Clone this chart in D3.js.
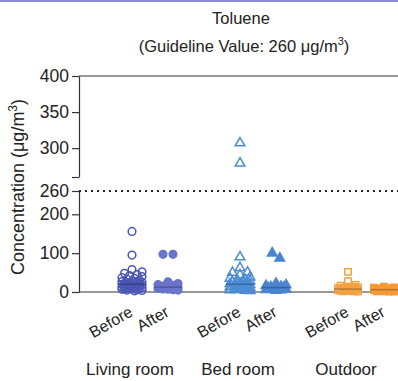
<!DOCTYPE html>
<html><head><meta charset="utf-8">
<script src="https://cdn.jsdelivr.net/npm/d3@7"></script>
<style>
html,body{margin:0;padding:0;background:#fff;}
svg{display:block;font-family:"Liberation Sans",Arial,sans-serif;}
</style></head>
<body><svg id="c" width="398" height="381"></svg>
<script>
const groups = ["Living room", "Bed room", "Outdoor"];
const phases = ["Before", "After"];
const livingBefore = [156, 95, 58, 52, 48, 45, 42, 40, 37, 35, 33, 30, 28, 27, 26, 25, 24, 23, 22, 22, 21, 20, 20, 19, 18, 18, 17, 16, 15, 15, 14, 13, 12, 12, 11, 10, 10, 9, 8, 8, 7, 6, 5, 4, 3];
const livingAfter = [97, 97, 26, 22, 19, 17, 15, 14, 13, 12, 11, 10, 9, 9, 8, 7, 6, 5];
const bedBefore = [307, 279, 90, 62, 51, 50, 44, 38, 35, 32, 30, 28, 26, 25, 24, 22, 21, 20, 19, 18, 17, 16, 15, 14, 13, 12, 11, 10, 9, 8, 7, 6, 5, 4, 3];
const bedAfter = [100, 87, 22, 18, 16, 14, 13, 12, 11, 10, 9, 8, 7, 6, 5, 4];
const outdoorBefore = [52, 28, 18, 16, 14, 13, 12, 11, 10, 9, 9, 8, 8, 7, 7, 6, 6, 5, 5, 4, 4, 3, 3, 2, 2, 1];
const outdoorAfter = [14, 12, 11, 10, 9, 8, 8, 7, 7, 6, 6, 5, 5, 4, 4, 3, 3, 2, 2, 1, 1];
const lowTicks = [0, 100, 200, 260];
const highTicks = [260, 300, 350, 400];
const guideline = 260;

const series = [
  {g: "Living room", p: "Before", vals: livingBefore, shape: d3.symbolCircle, open: true, color: "#4b56b4"},
  {g: "Living room", p: "After", vals: livingAfter, shape: d3.symbolCircle, open: false, color: "#6a74cb"},
  {g: "Bed room", p: "Before", vals: bedBefore, shape: d3.symbolTriangle, open: true, color: "#4c8cd4"},
  {g: "Bed room", p: "After", vals: bedAfter, shape: d3.symbolTriangle, open: false, color: "#4a84d2"},
  {g: "Outdoor", p: "Before", vals: outdoorBefore, shape: d3.symbolSquare, open: true, color: "#f4a142"},
  {g: "Outdoor", p: "After", vals: outdoorAfter, shape: d3.symbolSquare, open: false, color: "#f49a36"}
];

const svg = d3.select("#c");
const W = 398, x0 = 79;

svg.append("rect").attr("x",0).attr("y",0).attr("width",W).attr("height",2).attr("fill","#8a8cc8");

const outer = d3.scaleBand().domain(groups).range([96, 420]).padding(0);
const inner = d3.scalePoint().domain(phases).range([36, 72]);
const xPos = (g, p) => outer(g) + inner(p);

const yLow = d3.scaleLinear().domain([0, 260]).range([292, 191]);
const yHigh = d3.scaleLinear().domain([260, 400]).range([177, 76]);
const y = v => v <= 260 ? yLow(v) : yHigh(v);

svg.append("text").attr("x", 241).attr("y", 24).attr("text-anchor","middle").attr("font-size",16.5).attr("fill","#222").text("Toluene");
const t2 = svg.append("text").attr("x", 244).attr("y", 52).attr("text-anchor","middle").attr("font-size",16.5).attr("fill","#222");
t2.append("tspan").text("(Guideline Value: 260 μg/m");
t2.append("tspan").attr("dy",-7).attr("font-size",11).text("3");
t2.append("tspan").attr("dy",7).text(")");

const yl = svg.append("text").attr("transform","translate(24,187) rotate(-90)").attr("text-anchor","middle").attr("font-size",18).attr("fill","#222");
yl.append("tspan").text("Concentration (μg/m");
yl.append("tspan").attr("dy",-7).attr("font-size",12).text("3");
yl.append("tspan").attr("dy",7).text(")");

function styleAxis(g){
  g.selectAll("path.domain").attr("stroke","#333").attr("stroke-width",1.2);
  g.selectAll(".tick line").attr("stroke","#333").attr("stroke-width",1.2);
  g.selectAll(".tick text").attr("font-size",17.5).attr("fill","#222").attr("font-family","Liberation Sans, Arial, sans-serif");
}
const gh = svg.append("g").attr("transform",`translate(${x0},0)`)
  .call(d3.axisLeft(yHigh).tickValues(highTicks).tickSize(7).tickPadding(3).tickSizeOuter(0).tickFormat(d => d === 260 ? "" : d));
styleAxis(gh);
const gl = svg.append("g").attr("transform",`translate(${x0},0)`)
  .call(d3.axisLeft(yLow).tickValues(lowTicks).tickSize(7).tickPadding(3).tickSizeOuter(0));
styleAxis(gl);

svg.append("line").attr("x1",x0).attr("x2",W).attr("y1",yHigh(400)).attr("y2",yHigh(400)).attr("stroke","#333").attr("stroke-width",1.2);
svg.append("line").attr("x1",x0).attr("x2",W).attr("y1",yLow(0)).attr("y2",yLow(0)).attr("stroke","#333").attr("stroke-width",1.2);
svg.append("line").attr("x1",x0).attr("x2",W).attr("y1",yLow(guideline)).attr("y2",yLow(guideline))
  .attr("stroke","#222").attr("stroke-width",2).attr("stroke-dasharray","2,4");

function swarm(vals, cx, minD, step, maxOff){
  const placed = [];
  const sorted = vals.slice().sort((a,b)=>b-a);
  sorted.forEach(v => {
    const py = y(v);
    let chosen = null, bestX = cx, bestD = -1;
    for (let k = 0; ; k++) {
      const off = (k === 0) ? 0 : Math.ceil(k/2) * step * (k % 2 ? 1 : -1);
      if (Math.abs(off) > maxOff) break;
      const px = cx + off;
      const d = placed.length ? d3.min(placed, q => Math.hypot(q.x - px, q.y - py)) : Infinity;
      if (d >= minD) { chosen = px; break; }
      if (d > bestD) { bestD = d; bestX = px; }
    }
    placed.push({x: chosen !== null ? chosen : bestX, y: py, v});
  });
  const comp = placed.map(() => -1);
  let c = 0;
  placed.forEach((p, i) => {
    if (comp[i] >= 0) return;
    const stack = [i]; comp[i] = c;
    while (stack.length) {
      const j = stack.pop();
      placed.forEach((q, k) => {
        if (comp[k] < 0 && Math.hypot(q.x - placed[j].x, q.y - placed[j].y) < minD + 4) { comp[k] = c; stack.push(k); }
      });
    }
    c++;
  });
  for (let ci = 0; ci < c; ci++) {
    const members = placed.filter((p, i) => comp[i] === ci);
    if (members.length > 4) continue;
    const ext = d3.extent(members, m => m.x);
    const shift = cx - (ext[0] + ext[1]) / 2;
    members.forEach(m => m.x += shift);
  }
  return placed;
}

series.forEach(s => {
  const cx = xPos(s.g, s.p);
  const size = s.shape === d3.symbolSquare ? 40 : (s.shape === d3.symbolTriangle ? 40 : 46);
  const pts = swarm(s.vals, cx, 8, 2.5, 11);
  const sym = d3.symbol().type(s.shape).size(size);
  svg.append("g").selectAll("path").data(pts).join("path")
    .attr("d", sym)
    .attr("transform", d => `translate(${d.x},${d.y})`)
    .attr("fill", s.open ? "none" : s.color)
    .attr("stroke", s.color)
    .attr("stroke-width", 1.5);
  const med = d3.median(s.vals);
  svg.append("line").attr("x1", cx-14).attr("x2", cx+14).attr("y1", y(med)).attr("y2", y(med))
    .attr("stroke", d3.color(s.color).darker(0.8)).attr("stroke-width", 1.5);
});

groups.forEach(g => {
  phases.forEach(p => {
    svg.append("text")
      .attr("transform", `translate(${xPos(g,p)+2},315) rotate(-30)`)
      .attr("text-anchor","end").attr("font-size",16).attr("fill","#222")
      .text(p);
  });
  svg.append("text").attr("x", outer(g)+34).attr("y", 375).attr("text-anchor","middle")
    .attr("font-size",17).attr("fill","#222").text(g);
});
</script></body></html>
